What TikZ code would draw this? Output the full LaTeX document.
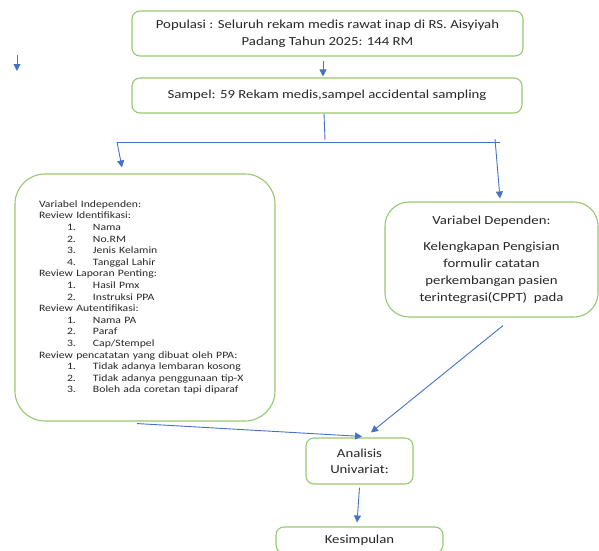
\documentclass[tikz,border=0pt]{standalone}
\usepackage{fontspec}
\setmainfont{Carlito}[FakeStretch=1.2]
\usepackage{xcolor}
\usepackage{tikz}
\usetikzlibrary{arrows.meta,positioning,calc}
\definecolor{boxGreen}{RGB}{150,200,110}
\definecolor{arrowBlue}{RGB}{68,114,196}
\definecolor{textGray}{RGB}{38,38,38}
\newcommand{\numItem}[2]{\hspace*{28pt}\makebox[26pt][l]{#1}#2}
\tikzset{
  greenBox/.style={rectangle, draw=boxGreen, line width=1.1pt, rounded corners=8pt, inner sep=0pt, align=center, text=textGray}, % green outlined box
  arrowLine/.style={draw=arrowBlue, line width=0.9pt, -{Triangle[length=7pt,width=7pt]}},
  plainLine/.style={draw=arrowBlue, line width=0.9pt},
  bigText/.style={font=\fontsize{12.3}{17}\selectfont},
  smallText/.style={font=\fontsize{9.75}{11.6}\selectfont}
}

\begin{document}
\begin{tikzpicture}[x=1pt, y=-1pt]
    \clip (0,0) rectangle (599,550);
    \useasboundingbox (0,0) rectangle (599,550);

    % Nodes
    \node [greenBox, bigText, minimum width=391pt, minimum height=45pt] (populasiBox) at (327.5,33.5) {Populasi : Seluruh rekam medis rawat inap di RS. Aisyiyah\\ Padang Tahun 2025: 144 RM};
    \node [greenBox, bigText, minimum width=390pt, minimum height=35pt] (sampelBox) at (327,95.5) {Sampel: 59 Rekam medis,sampel accidental sampling};
    \node [greenBox, smallText, rounded corners=30pt, minimum width=260pt, minimum height=247pt, align=left, text width=212pt] (indepBox) at (145,297.5) {Variabel Independen:\\
      Review Identifikasi:\\
      \numItem{1.}{Nama}\\
      \numItem{2.}{No.RM}\\
      \numItem{3.}{Jenis Kelamin}\\
      \numItem{4.}{Tanggal Lahir}\\
      Review Laporan Penting:\\
      \numItem{1.}{Hasil Pmx}\\
      \numItem{2.}{Instruksi PPA}\\
      Review Autentifikasi:\\
      \numItem{1.}{Nama PA}\\
      \numItem{2.}{Paraf}\\
      \numItem{3.}{Cap/Stempel}\\
      Review pencatatan yang dibuat oleh PPA:\\
      \numItem{1.}{Tidak adanya lembaran kosong}\\
      \numItem{2.}{Tidak adanya penggunaan tip-X}\\
      \numItem{3.}{Boleh ada coretan tapi diparaf}};
    \node [greenBox, bigText, rounded corners=24pt, minimum width=213pt, minimum height=115pt] (depBox) at (491.5,259.5) {Variabel Dependen:\\[9pt] Kelengkapan Pengisian\\ formulir catatan\\ perkembangan pasien\\ terintegrasi(CPPT)\ \ pada};
    \node [greenBox, bigText, minimum width=107pt, minimum height=46pt, font=\fontsize{12.3}{16}\selectfont] (analisisBox) at (359.5,461) {Analisis\\ Univariat:};
    \node [greenBox, bigText, minimum width=167pt, minimum height=26pt] (kesimpulanBox) at (359.5,540) {Kesimpulan};

    \coordinate (strayTop) at (17,55);
    \coordinate (strayEnd) at (17,71);
    \coordinate (branchMid) at (325,140);
    \coordinate (branchL) at (117,142);
    \coordinate (branchR) at (500,142);

    % Edges
    \draw[arrowLine] (strayTop) -- (strayEnd);
    \draw[arrowLine] ([xshift=-4.5pt,yshift=-4pt]populasiBox.south) -- ([xshift=-4pt,yshift=1pt]sampelBox.north);
    \draw[plainLine] ([xshift=-3pt]sampelBox.south) -- (branchMid);
    \draw[plainLine] (branchL) -- (branchR);
    \draw[arrowLine] (branchL) -- ([xshift=-23pt,yshift=6pt]indepBox.north);
    \draw[arrowLine] ([xshift=-5pt,yshift=3pt]branchR) -- ([xshift=8.5pt,yshift=3pt]depBox.north);
    \draw[arrowLine] ([xshift=-8pt,yshift=-2pt]indepBox.south) -- ([xshift=2.5pt,yshift=1pt]analisisBox.north);
    \draw[arrowLine] ([xshift=11.5pt,yshift=-8pt]depBox.south) -- ([xshift=11.5pt,yshift=5pt]analisisBox.north);
    \draw[arrowLine] ([yshift=-3pt]analisisBox.south) -- ([xshift=-2.5pt,yshift=4pt]kesimpulanBox.north);

\end{tikzpicture}
\end{document}
